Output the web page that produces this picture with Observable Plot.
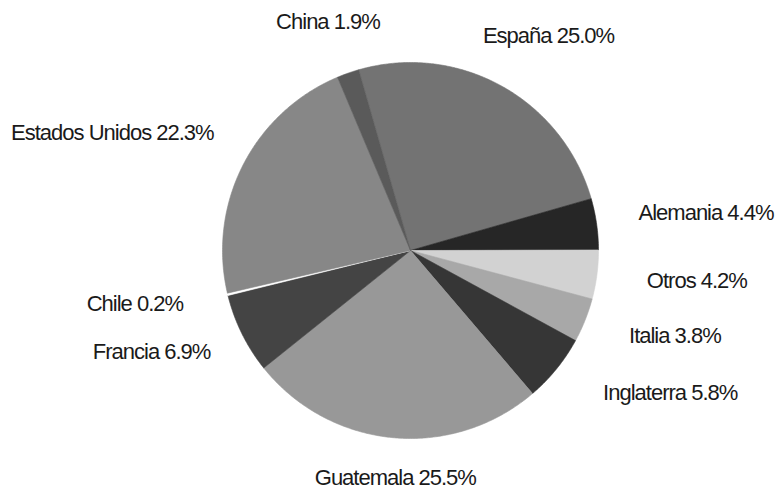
<!DOCTYPE html>
<html>
<head>
<meta charset="utf-8">
<script src="https://cdn.jsdelivr.net/npm/d3@7"></script>
<script src="https://cdn.jsdelivr.net/npm/@observablehq/plot@0.6"></script>
<style>
  html, body { margin: 0; padding: 0; background: #ffffff; }
  #chart { width: 777px; height: 490px; }
</style>
</head>
<body>
<div id="chart"></div>
<script>
// ---- data (clockwise from España) ----
const countries = ["España", "Alemania", "Otros", "Italia", "Inglaterra", "Guatemala", "Francia", "Chile", "Estados Unidos", "China"];
const shares    = [25.0, 4.4, 4.2, 3.8, 5.8, 25.5, 6.9, 0.2, 22.3, 1.9];
const labels    = ["España 25.0%", "Alemania 4.4%", "Otros 4.2%", "Italia 3.8%", "Inglaterra 5.8%", "Guatemala 25.5%", "Francia 6.9%", "Chile 0.2%", "Estados Unidos 22.3%", "China 1.9%"];

// ---- styling / layout ----
const sliceColors = ["#737373", "#262626", "#d2d2d2", "#a8a8a8", "#363636", "#989898", "#444444", "#ffffff", "#878787", "#5a5a5a"];
const W = 777, H = 490, CX = 410, CY = 250, R = 188;
const startDeg = -16;
const labelRadius = 1.08;
// pixel nudges for label placement [dx, dy]
const labelNudges = [[-26, -37], [27, -9], [35, 4], [30, 10], [35, 14], [4, 25], [-18, 12], [-30, 6], [-16, -25], [-15, -37]];

const rows = countries.map((c, i) => ({name: c, value: shares[i], label: labels[i], color: sliceColors[i], nudge: labelNudges[i]}));

const start = startDeg * Math.PI / 180;
const arcs = d3.pie().sort(null).value(d => d.value).startAngle(start).endAngle(start + 2 * Math.PI)(rows);

// polygon points (data units: radius = 1, y up)
const poly = [];
arcs.forEach(a => {
  const d = a.data;
  poly.push({name: d.name, color: d.color, x: 0, y: 0});
  const n = Math.max(2, Math.ceil((a.endAngle - a.startAngle) / (Math.PI / 360)));
  for (let k = 0; k <= n; k++) {
    const t = a.startAngle + (a.endAngle - a.startAngle) * k / n;
    poly.push({name: d.name, color: d.color, x: Math.sin(t), y: Math.cos(t)});
  }
  poly.push({name: d.name, color: d.color, x: 0, y: 0});
});

const labelRows = arcs.map(a => {
  const m = (a.startAngle + a.endAngle) / 2;
  const s = Math.sin(m);
  return {
    text: a.data.label,
    x: labelRadius * s + a.data.nudge[0] / R,
    y: labelRadius * Math.cos(m) - a.data.nudge[1] / R,
    anchor: s > 0.35 ? "start" : s < -0.35 ? "end" : "middle"
  };
});

const textStyle = {fontSize: 22, fill: "#1a1a1a", fontFamily: "'Liberation Sans', Arial, sans-serif"};
const textMark = anchor => Plot.text(labelRows.filter(d => d.anchor === anchor), {
  x: "x", y: "y", text: "text", textAnchor: anchor, ...textStyle
});

const chart = Plot.plot({
  width: W,
  height: H,
  margin: 0,
  style: {background: "#ffffff", fontFamily: "'Liberation Sans', Arial, sans-serif"},
  x: {domain: [-CX / R, (W - CX) / R], axis: null},
  y: {domain: [-(H - CY) / R, CY / R], axis: null},
  marks: [
    Plot.line(poly, {x: "x", y: "y", z: "name", fill: "color", stroke: "color", strokeWidth: 0.6, curve: "linear"}),
    textMark("start"),
    textMark("end"),
    textMark("middle")
  ]
});
chart.querySelectorAll("text").forEach(t => t.style.letterSpacing = "-1px");
document.getElementById("chart").appendChild(chart);
</script>
</body>
</html>
